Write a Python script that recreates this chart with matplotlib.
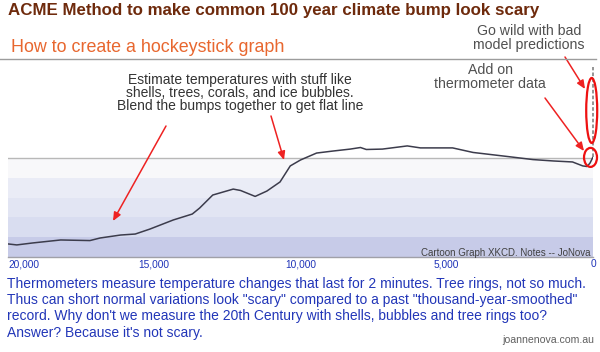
import matplotlib
matplotlib.use("Agg")
import matplotlib.pyplot as plt
from matplotlib.patches import Ellipse, FancyArrowPatch
from matplotlib.lines import Line2D

# ---------------- data ----------------
years = [20000, 19700, 19150, 18200, 17200, 16850, 16150, 15650, 15150, 14350,
         13700, 13450, 13000, 12300, 12050, 11550, 11150, 10700, 10350, 10000,
         9450, 8900, 8300, 7950, 7750, 7200, 6350, 5900, 4800, 4100,
         2950, 2050, 1350, 700, 350, 200, 100, 0]
temps = [0.66, 0.61, 0.71, 0.86, 0.83, 0.96, 1.11, 1.16, 1.41, 1.87,
         2.17, 2.47, 3.13, 3.43, 3.36, 3.06, 3.33, 3.79, 4.60, 4.90,
         5.25, 5.35, 5.45, 5.53, 5.43, 5.45, 5.61, 5.51, 5.51, 5.28,
         5.08, 4.92, 4.85, 4.80, 4.60, 4.57, 4.75, 5.05]
spike_years = [0, 0]
spike_temps = [5.05, 9.6]

tick_years = [20000, 15000, 10000, 5000, 0]
tick_labels = ["20,000", "15,000", "10,000", "5,000", "0"]

title = "ACME Method to make common 100 year climate bump look scary"
subtitle = "How to create a hockeystick graph"
note_models = ["Go wild with bad", "model predictions"]
note_thermo = ["Add on", "thermometer data"]
note_proxy = ["Estimate temperatures with stuff like",
              "shells, trees, corals, and ice bubbles.",
              "Blend the bumps together to get flat line"]
paragraph = ["Thermometers measure temperature changes that last for 2 minutes. Tree rings, not so much.",
             "Thus can short normal variations look \"scary\" compared to a past \"thousand-year-smoothed\"",
             "record. Why don't we measure the 20th Century with shells, bubbles and tree rings too?",
             "Answer? Because it's not scary."]
credit = "Cartoon Graph XKCD. Notes -- JoNova"
site = "joannenova.com.au"

# ---------------- figure ----------------
W, H = 600, 352
fig = plt.figure(figsize=(W / 100, H / 100), dpi=100)
fig.patch.set_facecolor("white")
plt.rcParams['font.family'] = ['Liberation Sans', 'DejaVu Sans']

renderer = fig.canvas.get_renderer()


def fy(y):
    return 1 - y / H


def fit(s, target, **kw):
    t = fig.text(0, 0, s, fontsize=10, **kw)
    w = t.get_window_extent(renderer=renderer).width
    t.remove()
    return 10 * target / w


def ptext(x, y, s, **kw):
    return fig.text(x / W, fy(y), s, **kw)


ax = fig.add_axes([8 / W, fy(257), 585 / W, (257 - 59) / H])
ax.set_xlim(20000, 0)
ax.set_ylim(0, 10)

band_colors = ['#c7cbe8', '#d9ddf0', '#e2e5f3', '#eaecf6', '#f8f8fa']
for i, c in enumerate(band_colors):
    ax.axhspan(i, i + 1, color=c, lw=0, zorder=0)
ax.axhline(5, color='#b8b8b8', lw=1.0, zorder=1)

for sp in ['top', 'right', 'left']:
    ax.spines[sp].set_visible(False)
ax.spines['bottom'].set_color('#a0a0a8')
ax.spines['bottom'].set_linewidth(1.0)
ax.set_yticks([])
ax.set_xticks(tick_years)
ax.set_xticklabels(tick_labels)
ax.tick_params(axis='x', length=0, pad=1.5, labelsize=7.3, labelcolor='#1f33b8')
ax.get_xticklabels()[0].set_horizontalalignment('left')
ax.set_facecolor('none')

ax.plot(years, temps, color='#3c3c4c', lw=1.1, zorder=3)
ax.plot(spike_years, spike_temps, color='#8c8c8c', lw=1.3, ls=(0, (2, 1.2)),
        clip_on=False, zorder=3)

ax.add_patch(Ellipse((44, 7.40), 376, 3.28, fill=False, ec='#ee1111', lw=1.6,
                     clip_on=False, zorder=4))
ax.add_patch(Ellipse((85, 5.03), 444, 0.96, fill=False, ec='#ee1111', lw=1.6,
                     clip_on=False, zorder=4))

# separator line under subtitle
fig.add_artist(Line2D([0, 596 / W], [fy(59), fy(59)], color='#9c9c9c', lw=1.0))

# titles
fs = fit(title, 533, fontweight='bold')
ptext(8, 10, title, fontsize=fs, fontweight='bold', color='#6e2a0c', va='center', ha='left')
fs = fit(subtitle, 274)
ptext(11, 47, subtitle, fontsize=fs, color='#e8672f', va='center', ha='left')

# annotations
gray = '#505050'
fs = 10.2
ptext(529, 31, note_models[0], fontsize=fs, color=gray, ha='center', va='center')
ptext(529, 45, note_models[1], fontsize=fs, color=gray, ha='center', va='center')
ptext(490, 70, note_thermo[0], fontsize=fs, color=gray, ha='center', va='center')
ptext(490, 84, note_thermo[1], fontsize=fs, color=gray, ha='center', va='center')
fs = 10.0
for s, y in zip(note_proxy, [80, 93, 106]):
    ptext(240, y, s, fontsize=fs, color='#333333', ha='center', va='center')

# arrows
arrows = [((166, 126), (113, 221)), ((271, 116), (284, 160)),
          ((565, 57), (585, 89)), ((545, 98), (584, 151))]
for (x0, y0), (x1, y1) in arrows:
    fig.add_artist(FancyArrowPatch(
        (x0 / W, fy(y0)), (x1 / W, fy(y1)), transform=fig.transFigure,
        arrowstyle='-|>,head_length=5,head_width=2.2', color='#ee2222', lw=1.1,
        shrinkA=0, shrinkB=0))

# credit inside the plot
fs = fit(credit, 170)
ptext(421, 253, credit, fontsize=fs, color='#404040', ha='left', va='center')

# paragraph
fs = fit(paragraph[0], 579)
for s, y in zip(paragraph, [284, 300, 316, 333]):
    ptext(7, y, s, fontsize=fs, color='#2236b8', ha='left', va='center')

fs = fit(site, 92)
ptext(594, 340, site, fontsize=fs, color='#606060', ha='right', va='center')

fig.savefig("out.png", dpi=100, facecolor='white')
